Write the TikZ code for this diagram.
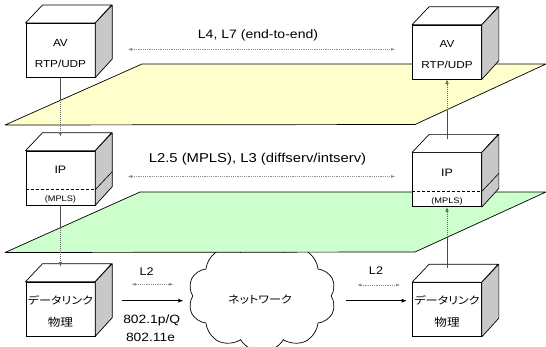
\documentclass[tikz,border=0pt]{standalone}
\usepackage{fontspec}
\usepackage{graphicx}
\setmainfont{Liberation Sans}
\newfontfamily\jpfont[RawFeature=+palt]{Noto Sans CJK JP}
\usetikzlibrary{arrows.meta,shapes.symbols}

\definecolor{paleyellow}{HTML}{FFFFCC}
\definecolor{palegreen}{HTML}{CCFFCC}
\definecolor{sidegray}{HTML}{C8C8C8}

% horizontally widened lettering
\newcommand\wide[1]{\scalebox{1.15}[1]{#1}}
\newcommand\fsz[1]{\fontsize{#1}{#1}\selectfont}

% top and side faces of a box whose front face is node #1
\newcommand\cubefaces[1]{%
  \filldraw[face] (#1.north west) -- ++(17,-18) -- ++(69,0) -- (#1.north east) -- cycle;
  \filldraw[face,fill=sidegray] (#1.north east) -- ++(17,-18) -- ++(0,54) -- (#1.south east) -- cycle;
}
% MPLS sub-layer divider of an IP box
\newcommand\mplsline[1]{%
  \draw[line width=0.5pt,densely dashed] ([yshift=-39pt]#1.north west) -- ([yshift=-39pt]#1.north east);
  \draw[line width=0.6pt] ([yshift=-39pt]#1.north east) -- ++(17,-18);
}

\tikzset{
  face/.style={fill=white,draw,line width=0.7pt,line join=round},
  frontface/.style={draw,fill=white,line width=0.7pt,minimum width=69pt,minimum height=54pt,inner sep=0pt},
  txt/.style={inner sep=0pt},
  plane/.style={draw,line width=0.7pt,line join=round},
  link/.style={line width=0.7pt,draw=black!70},
  hidden/.style={line width=0.6pt,draw=black!60,dash pattern=on 1pt off 1pt},
  tip/.style={-{Latex[length=4.5pt,width=3.5pt]}},
  peer/.style={{Latex[length=4pt,width=3pt]}-{Latex[length=4pt,width=3pt]},draw=black!45,line width=0.5pt,dash pattern=on 1.2pt off 1pt},
  flow/.style={-{Latex[length=5pt,width=4pt]},line width=0.7pt},
}

\begin{document}
\begin{tikzpicture}[x=1pt,y=-1pt]
\useasboundingbox (0,0) rectangle (546,346);

% upper plane (end-to-end layer)
\path[plane,fill=paleyellow] (5,125) -- (415,124.5) -- (546,64) -- (142,64) -- cycle;

% network cloud, partly hidden under the lower plane
\node[cloud,draw,fill=white,line width=0.7pt,cloud puffs=10,cloud puff arc=120,aspect=1.35,
      minimum width=148pt,minimum height=112pt,inner sep=0pt] (net) at (262,296) {};

% lower plane (L2.5/L3 layer)
\path[plane,fill=palegreen] (5,252.5) -- (415,252) -- (546,192) -- (140,192) -- cycle;

% box front faces
\node[frontface] (avL) at (60.4,50.3) {};
\node[frontface] (avR) at (447,52) {};
\node[frontface] (ipL) at (60.4,178) {};
\node[frontface] (ipR) at (447,179.7) {};
\node[frontface] (dlL) at (60.4,309) {};
\node[frontface] (dlR) at (447,309.5) {};
\cubefaces{avL}\cubefaces{avR}
\cubefaces{ipL}\cubefaces{ipR}
\cubefaces{dlL}\cubefaces{dlR}
\mplsline{ipL}\mplsline{ipR}

% box labels
\node[txt,font=\fsz{10.2}] (avLa) at ([yshift=7.3pt]avL.center) {\wide{AV}};
\node[txt,font=\fsz{10.2}] (avLb) at ([yshift=-14pt]avL.center) {\wide{RTP/UDP}};
\node[txt,font=\fsz{10.2}] (avRa) at ([yshift=8.5pt]avR.center) {\wide{AV}};
\node[txt,font=\fsz{10.2}] (avRb) at ([yshift=-12.5pt]avR.center) {\wide{RTP/UDP}};
\node[txt,font=\fsz{10.8}] (ipLa) at ([yshift=8pt]ipL.center) {\wide{IP}};
\node[txt,font=\fsz{8}] (ipLb) at ([yshift=-21.5pt]ipL.center) {\wide{(MPLS)}};
\node[txt,font=\fsz{10.8}] (ipRa) at ([yshift=6.5pt]ipR.center) {\wide{IP}};
\node[txt,font=\fsz{8}] (ipRb) at ([yshift=-21.3pt]ipR.center) {\wide{(MPLS)}};
\node[txt,font=\jpfont\fsz{10.5}] (dlLa) at ([yshift=9pt]dlL.center) {\wide{データリンク}};
\node[txt,font=\jpfont\fsz{11}] (dlLb) at ([yshift=-13pt]dlL.center) {\wide{物理}};
\node[txt,font=\jpfont\fsz{10.5}] (dlRa) at ([yshift=8.8pt]dlR.center) {\wide{データリンク}};
\node[txt,font=\jpfont\fsz{11}] (dlRb) at ([yshift=-13.2pt]dlR.center) {\wide{物理}};
\node[txt,font=\jpfont\fsz{10.5}] (netlbl) at (260,300) {\wide{ネットワーク}};

% vertical flow through the layers
\coordinate (yL) at (60.4,100.3);
\coordinate (gL) at (60.4,227.7);
\coordinate (gR) at (447,237.3);
\coordinate (yR) at (447,109.7);
\draw[link] (avL.south) -- (yL);
\draw[hidden,tip] (yL) -- ([yshift=14pt]ipL.north);
\draw[link] (ipL.south) -- (gL);
\draw[hidden,tip] (gL) -- ([yshift=15pt]dlL.north);
\draw[link] ([yshift=14pt]dlR.north) -- (gR);
\draw[hidden,tip] (gR) -- (ipR.south);
\draw[link] ([yshift=13pt]ipR.north) -- (yR);
\draw[hidden,tip] (yR) -- (avR.south);

% peer relations between the two ends
\coordinate (t1) at (128,49.3);   \coordinate (t2) at (395,49.3);
\coordinate (m1) at (128,176.5);  \coordinate (m2) at (395,176.5);
\draw[peer] (t1) -- (t2);
\draw[peer] (m1) -- (m2);
\node[txt,font=\fsz{12.2}] (lblTop) at (258,35) {\wide{L4, L7 (end-to-end)}};
\node[txt,font=\fsz{12.9}] (lblMid) at (257.5,159.5) {\wide{L2.5 (MPLS), L3 (diffserv/intserv)}};

% link layer on both sides of the network
\coordinate (a1) at (131.7,284.3); \coordinate (a2) at (173.3,284.3);
\coordinate (b1) at (121.7,300.7); \coordinate (b2) at (183.3,300.7);
\coordinate (c1) at (357.3,285);   \coordinate (c2) at (400,285);
\coordinate (d1) at (346,300.7);   \coordinate (d2) at (406.7,300.7);
\draw[peer] (a1) -- (a2);
\draw[flow] (b1) -- (b2);
\draw[peer] (c1) -- (c2);
\draw[flow] (d1) -- (d2);
\node[txt,font=\fsz{11}] (l2L) at (146.7,271.7) {\wide{L2}};
\node[txt,font=\fsz{11}] (l2R) at (376,270.7) {\wide{L2}};
\node[txt,font=\fsz{12}] (std1) at (151.7,320.5) {\wide{802.1p/Q}};
\node[txt,font=\fsz{12}] (std2) at (150.5,337.5) {\wide{802.11e}};
\end{tikzpicture}
\end{document}
